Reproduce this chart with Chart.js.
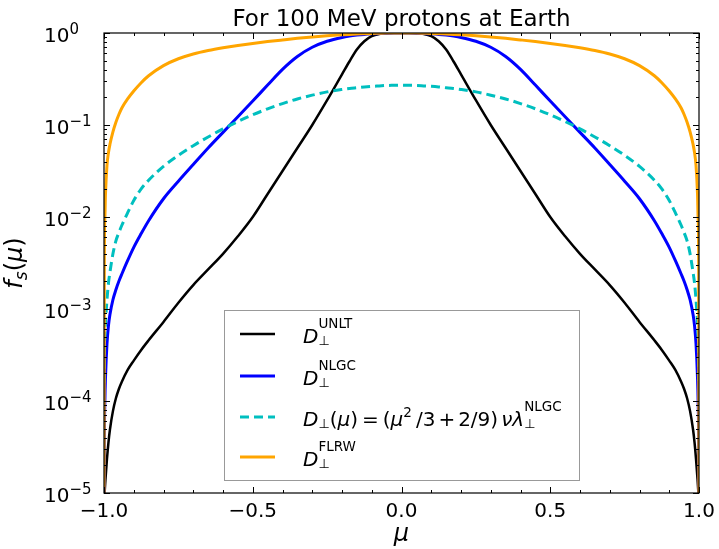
<!DOCTYPE html>
<html>
<head>
<meta charset="utf-8">
<script src="https://cdn.jsdelivr.net/npm/chart.js@4"></script>
<style>
  html, body { margin: 0; padding: 0; background: #fff; }
  #wrap { width: 719px; height: 549px; }
</style>
</head>
<body>
<div id="wrap"><canvas id="chart" width="719" height="549"></canvas></div>
<script>
'use strict';

// pitch-angle cosine
const mu = [
  -1, -0.999, -0.997, -0.995, -0.99, -0.985, -0.98, -0.97, -0.96, -0.95, -0.94, -0.92,
  -0.9, -0.875, -0.85, -0.8, -0.75, -0.7, -0.65, -0.6, -0.55, -0.5, -0.45, -0.4,
  -0.35, -0.3, -0.25, -0.2, -0.175, -0.15, -0.125, -0.1, -0.075, -0.05, -0.025, 0,
  0.025, 0.05, 0.075, 0.1, 0.125, 0.15, 0.175, 0.2, 0.25, 0.3, 0.35,
  0.4, 0.45, 0.5, 0.55, 0.6, 0.65, 0.7, 0.75, 0.8, 0.85, 0.875, 0.9,
  0.92, 0.94, 0.95, 0.96, 0.97, 0.98, 0.985, 0.99, 0.995, 0.997, 0.999, 1
];

const fsUnlt = [
  6.31e-6, 8.51e-6, 1.12e-5, 1.41e-5, 2.34e-5, 3.55e-5, 4.90e-5, 7.76e-5, 1.07e-4, 1.35e-4, 1.62e-4, 2.19e-4,
  2.75e-4, 3.59e-4, 4.57e-4, 7.24e-4, 1.17e-3, 1.82e-3, 2.69e-3, 3.98e-3, 6.17e-3, 1.0e-2, 1.78e-2, 3.16e-2,
  5.62e-2, 0.100, 0.186, 0.355, 0.490, 0.661, 0.813, 0.923, 0.977, 0.995, 1, 1,
  1, 0.995, 0.977, 0.923, 0.813, 0.661, 0.490, 0.355, 0.186, 0.100, 5.62e-2,
  3.16e-2, 1.78e-2, 1.0e-2, 6.17e-3, 3.98e-3, 2.69e-3, 1.82e-3, 1.17e-3, 7.24e-4, 4.57e-4, 3.59e-4, 2.75e-4,
  2.19e-4, 1.62e-4, 1.35e-4, 1.07e-4, 7.76e-5, 4.90e-5, 3.55e-5, 2.34e-5, 1.41e-5, 1.12e-5, 8.51e-6, 6.31e-6
];

const fsNlgc = [
  3.16e-6, 3.16e-5, 1.0e-4, 1.78e-4, 4.17e-4, 6.61e-4, 8.71e-4, 1.26e-3, 1.62e-3, 2.0e-3, 2.40e-3, 3.39e-3,
  4.68e-3, 6.61e-3, 9.12e-3, 1.58e-2, 2.45e-2, 3.72e-2, 5.62e-2, 8.32e-2, 0.123, 0.182, 0.272, 0.403,
  0.556, 0.700, 0.813, 0.895, 0.925, 0.948, 0.966, 0.979, 0.989, 0.995, 0.999, 1,
  0.999, 0.995, 0.989, 0.979, 0.966, 0.948, 0.925, 0.895, 0.813, 0.700, 0.556,
  0.403, 0.272, 0.182, 0.123, 8.32e-2, 5.62e-2, 3.72e-2, 2.45e-2, 1.58e-2, 9.12e-3, 6.61e-3, 4.68e-3,
  3.39e-3, 2.40e-3, 2.0e-3, 1.62e-3, 1.26e-3, 8.71e-4, 6.61e-4, 4.17e-4, 1.78e-4, 1.0e-4, 3.16e-5, 3.16e-6
];

const fsNlgcApprox = [
  1.58e-4, 3.16e-4, 5.01e-4, 7.08e-4, 1.26e-3, 1.91e-3, 2.51e-3, 3.98e-3, 5.50e-3, 6.76e-3, 8.13e-3, 1.12e-2,
  1.51e-2, 2.02e-2, 2.51e-2, 3.55e-2, 4.68e-2, 5.96e-2, 7.41e-2, 9.07e-2, 0.109, 0.129, 0.150, 0.171,
  0.192, 0.211, 0.229, 0.243, 0.249, 0.254, 0.259, 0.263, 0.266, 0.269, 0.270, 0.271,
  0.270, 0.269, 0.266, 0.263, 0.259, 0.254, 0.249, 0.243, 0.229, 0.211, 0.192,
  0.171, 0.150, 0.129, 0.109, 9.07e-2, 7.41e-2, 5.96e-2, 4.68e-2, 3.55e-2, 2.51e-2, 2.02e-2, 1.51e-2,
  1.12e-2, 8.13e-3, 6.76e-3, 5.50e-3, 3.98e-3, 2.51e-3, 1.91e-3, 1.26e-3, 7.08e-4, 5.01e-4, 3.16e-4, 1.58e-4
];

const fsFlrw = [
  1e-6, 3.16e-3, 1.0e-2, 1.78e-2, 3.63e-2, 5.01e-2, 6.17e-2, 8.41e-2, 0.107, 0.130, 0.153, 0.193,
  0.234, 0.288, 0.343, 0.442, 0.525, 0.592, 0.646, 0.692, 0.733, 0.771, 0.807, 0.841,
  0.875, 0.906, 0.933, 0.955, 0.966, 0.975, 0.982, 0.989, 0.993, 0.997, 0.999, 1,
  0.999, 0.997, 0.993, 0.989, 0.982, 0.975, 0.966, 0.955, 0.933, 0.906, 0.875,
  0.841, 0.807, 0.771, 0.733, 0.692, 0.646, 0.592, 0.525, 0.442, 0.343, 0.288, 0.234,
  0.193, 0.153, 0.130, 0.107, 8.41e-2, 6.17e-2, 5.01e-2, 3.63e-2, 1.78e-2, 1.0e-2, 3.16e-3, 1e-6
];

const xMajorTicks = [-1.0, -0.5, 0.0, 0.5, 1.0];
const xTickLabels = ['\u22121.0', '\u22120.5', '0.0', '0.5', '1.0'];
const xMinorTicks = [-0.9, -0.8, -0.7, -0.6, -0.4, -0.3, -0.2, -0.1, 0.1, 0.2, 0.3, 0.4, 0.6, 0.7, 0.8, 0.9];
const yDecades = [0, -1, -2, -3, -4, -5];
const yTickExponents = ['0', '\u22121', '\u22122', '\u22123', '\u22124', '\u22125'];
const titleText = 'For 100 MeV protons at Earth';

const FONT = '"DejaVu Sans", sans-serif';

const seriesColors = ['#000000', '#0000ff', '#00bfbf', '#ffa500'];

// legend labels as mathtext-like pieces
const legendLabels = [
  [{ t: 'D', it: true, s: 20 }, { t: '\u22a5', s: 13, dy: 2, keep: true }, { t: 'UNLT', s: 13.5, dy: -15 }],
  [{ t: 'D', it: true, s: 20 }, { t: '\u22a5', s: 13, dy: 2, keep: true }, { t: 'NLGC', s: 13.5, dy: -15 }],
  [{ t: 'D', it: true, s: 20 }, { t: '\u22a5', s: 13, dy: 2 }, { t: '(', s: 20 }, { t: '\u03bc', it: true, s: 20 },
   { t: ')', s: 20, gap: 4 }, { t: '=', s: 20, gap: 4 }, { t: '(', s: 20 }, { t: '\u03bc', it: true, s: 20 },
   { t: '2', s: 13.5, dy: -9, gap: 4 }, { t: '/3', s: 20, gap: 3 }, { t: '+', s: 20, gap: 3 }, { t: '2/9)', s: 20, gap: 3 },
   { t: '\u03bd', it: true, s: 20 }, { t: '\u03bb', it: true, s: 20 },
   { t: '\u22a5', s: 13, dy: 2, keep: true }, { t: 'NLGC', s: 13.5, dy: -15 }],
  [{ t: 'D', it: true, s: 20 }, { t: '\u22a5', s: 13, dy: 2, keep: true }, { t: 'FLRW', s: 13.5, dy: -15 }],
];

function pts(ys) {
  return mu.map((m, i) => ({ x: m, y: ys[i] }));
}

function drawMath(ctx, x, y, parts) {
  let cx = x;
  let maxX = x;
  parts.forEach(p => {
    ctx.font = `${p.it ? 'italic ' : ''}${p.s}px ${FONT}`;
    ctx.fillText(p.t, cx, y + (p.dy || 0));
    const w = ctx.measureText(p.t).width;
    maxX = Math.max(maxX, cx + w);
    if (!p.keep) cx += w + (p.gap || 0);
  });
  return maxX - x;
}

function mathWidth(ctx, parts) {
  let cx = 0, maxX = 0;
  parts.forEach(p => {
    ctx.font = `${p.it ? 'italic ' : ''}${p.s}px ${FONT}`;
    const w = ctx.measureText(p.t).width;
    maxX = Math.max(maxX, cx + w);
    if (!p.keep) cx += w + (p.gap || 0);
  });
  return maxX;
}

const framePlugin = {
  id: 'frame',
  afterDatasetsDraw(chart) {
    const { ctx, chartArea: a, scales } = chart;
    const xs = scales.x, ys = scales.y;
    ctx.save();
    ctx.strokeStyle = '#000';
    ctx.lineWidth = 1.2;
    ctx.strokeRect(a.left, a.top, a.right - a.left, a.bottom - a.top);

    const MAJ = 6, MIN = 3;
    ctx.lineWidth = 1;
    ctx.beginPath();
    xMajorTicks.forEach(v => {
      const px = Math.round(xs.getPixelForValue(v)) + 0.5;
      ctx.moveTo(px, a.bottom); ctx.lineTo(px, a.bottom - MAJ);
      ctx.moveTo(px, a.top); ctx.lineTo(px, a.top + MAJ);
    });
    xMinorTicks.forEach(v => {
      const px = Math.round(xs.getPixelForValue(v)) + 0.5;
      ctx.moveTo(px, a.bottom); ctx.lineTo(px, a.bottom - MIN);
      ctx.moveTo(px, a.top); ctx.lineTo(px, a.top + MIN);
    });
    yDecades.forEach(k => {
      const py = Math.round(ys.getPixelForValue(Math.pow(10, k))) + 0.5;
      ctx.moveTo(a.left, py); ctx.lineTo(a.left + MAJ, py);
      ctx.moveTo(a.right, py); ctx.lineTo(a.right - MAJ, py);
      if (k < 0) {
        for (let m = 2; m <= 9; m++) {
          const pm = Math.round(ys.getPixelForValue(m * Math.pow(10, k))) + 0.5;
          ctx.moveTo(a.left, pm); ctx.lineTo(a.left + MIN, pm);
          ctx.moveTo(a.right, pm); ctx.lineTo(a.right - MIN, pm);
        }
      }
    });
    ctx.stroke();

    ctx.fillStyle = '#000';
    // x tick labels
    ctx.font = `20px ${FONT}`;
    ctx.textAlign = 'center';
    ctx.textBaseline = 'alphabetic';
    xMajorTicks.forEach((v, i) => {
      ctx.fillText(xTickLabels[i], xs.getPixelForValue(v), a.bottom + 24);
    });
    // y tick labels 10^k
    ctx.textAlign = 'left';
    yDecades.forEach((k, i) => {
      const py = ys.getPixelForValue(Math.pow(10, k));
      drawMath(ctx, 44, py + 9, [{ t: '10', s: 20 }, { t: yTickExponents[i], s: 15, dy: -8 }]);
    });

    // title
    ctx.font = `23px ${FONT}`;
    ctx.textAlign = 'center';
    ctx.fillText(titleText, (a.left + a.right) / 2, 26);

    // x axis label
    ctx.font = `italic 24px ${FONT}`;
    ctx.fillText('\u03bc', (a.left + a.right) / 2, 541);

    // y axis label
    ctx.textAlign = 'left';
    const yLabel = [{ t: 'f', it: true, s: 24 }, { t: 's', it: true, s: 17, dy: 5 }, { t: '(', s: 24 },
      { t: '\u03bc', it: true, s: 24 }, { t: ')', s: 24 }];
    ctx.translate(22, (a.top + a.bottom) / 2);
    ctx.rotate(-Math.PI / 2);
    const w = mathWidth(ctx, yLabel);
    drawMath(ctx, -w / 2, 0, yLabel);
    ctx.restore();

    // legend
    ctx.save();
    const bx = 224.5, by = 310.5, bw = 355, bh = 170;
    ctx.fillStyle = '#fff';
    ctx.fillRect(bx, by, bw, bh);
    ctx.strokeStyle = '#999';
    ctx.lineWidth = 1;
    ctx.strokeRect(bx, by, bw, bh);
    const rowY = [334, 376, 417, 457];
    chart.data.datasets.forEach((ds, i) => {
      ctx.strokeStyle = ds.borderColor;
      ctx.lineWidth = ds.borderWidth;
      ctx.setLineDash(ds.borderDash || []);
      ctx.beginPath();
      ctx.moveTo(240, rowY[i]);
      ctx.lineTo(275, rowY[i]);
      ctx.stroke();
      ctx.setLineDash([]);
      ctx.fillStyle = '#000';
      ctx.textAlign = 'left';
      drawMath(ctx, 303, rowY[i] + 9, legendLabels[i]);
    });
    ctx.restore();
  }
};

new Chart(document.getElementById('chart'), {
  type: 'line',
  data: {
    datasets: [
      { label: 'UNLT', data: pts(fsUnlt), borderColor: seriesColors[0], borderWidth: 2.5, order: 3 },
      { label: 'NLGC', data: pts(fsNlgc), borderColor: seriesColors[1], borderWidth: 3, order: 2 },
      { label: 'approx', data: pts(fsNlgcApprox), borderColor: seriesColors[2], borderWidth: 3, borderDash: [9, 5], order: 1 },
      { label: 'FLRW', data: pts(fsFlrw), borderColor: seriesColors[3], borderWidth: 3, order: 0 },
    ],
  },
  options: {
    responsive: false,
    animation: false,
    devicePixelRatio: 1,
    layout: { padding: { left: 104, right: 20, top: 33, bottom: 56 } },
    elements: {
      point: { radius: 0 },
      line: { cubicInterpolationMode: 'monotone', fill: false },
    },
    plugins: {
      legend: { display: false },
      title: { display: false },
      tooltip: { enabled: false },
    },
    scales: {
      x: { type: 'linear', min: -1, max: 1, display: false },
      y: { type: 'logarithmic', min: 1e-5, max: 1, display: false },
    },
  },
  plugins: [framePlugin],
});
</script>
</body>
</html>
